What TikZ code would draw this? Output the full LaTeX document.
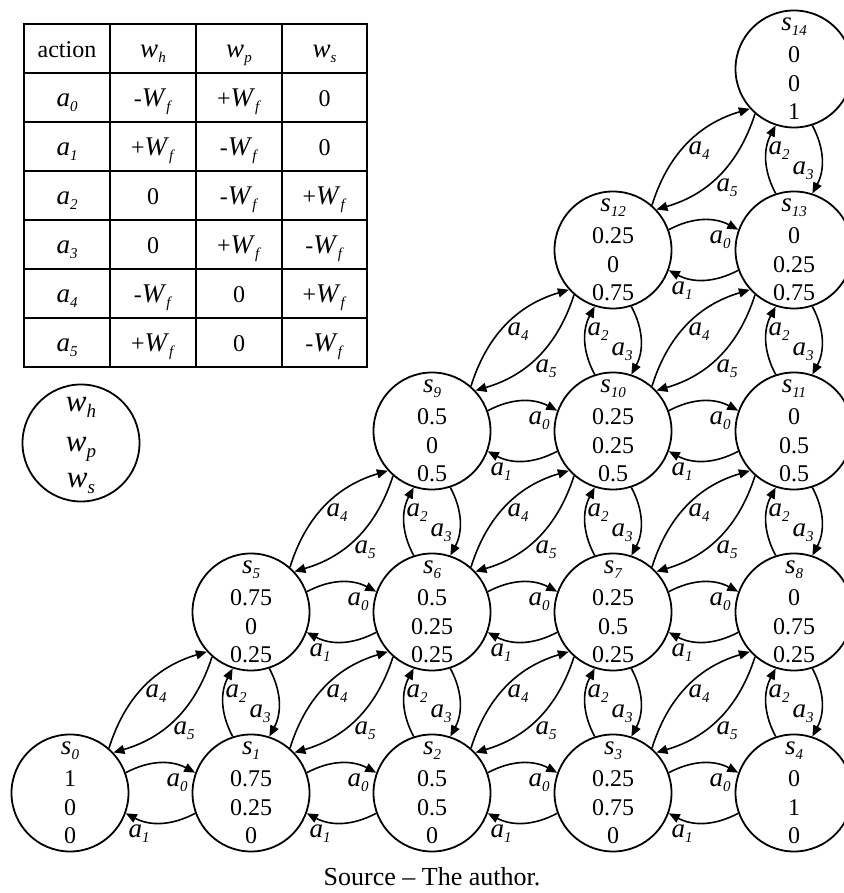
\documentclass[tikz,border=0pt]{standalone}
\usepackage{fontspec}
\setmainfont{Liberation Serif}
\usetikzlibrary{arrows.meta}
\newcommand\sub[2]{{\fontsize{27}{30}\selectfont\textit{#1}}\raisebox{-5pt}{\fontsize{15}{15}\selectfont\textit{#2}}}
\newcommand\subL[2]{{\fontsize{31}{34}\selectfont\textit{#1}}\raisebox{-6pt}{\fontsize{19}{19}\selectfont\textit{#2}}}
\newcommand\mW{-\sub{W}{f}}
\newcommand\pW{+\sub{W}{f}}
\tikzset{
  stc/.style={circle, draw, line width=1.8pt, minimum size=117pt, inner sep=0pt},
  num/.style={anchor=base, font=\fontsize{24}{28}\selectfont, inner sep=0pt},
  var/.style={anchor=base, inner sep=0pt},
  arr/.style={line width=1.6pt, -{Triangle[length=11pt,width=9pt]}},
  lab/.style={inner sep=0pt},
  cell/.style={anchor=base, font=\fontsize{24}{28}\selectfont, inner sep=0pt},
}
\newcommand\mystate[7]{%
  \node[stc] (#1) at (#2,#3) {};
  \path (#1) ++(0,38.5) node[var] {\sub{s}{#4}};
  \path (#1) ++(0,6) node[num] {#5};
  \path (#1) ++(0,-23) node[num] {#6};
  \path (#1) ++(0,-51) node[num] {#7};
}
\begin{document}
\begin{tikzpicture}[x=1pt,y=1pt]
\useasboundingbox (0,0) rectangle (843,893);

% table
\draw[line width=1.8pt] (24,526) rectangle (367,869);
\foreach \x in {110,196,282} \draw[line width=1.8pt] (\x,526) -- (\x,869);
\foreach \y in {820,771,722,673,624,575} \draw[line width=1.8pt] (24,\y) -- (367,\y);
\foreach \i/\ca/\cb/\cc/\cd in {
  0/{action}/{\sub{w}{h}}/{\sub{w}{p}}/{\sub{w}{s}},
  1/{\sub{a}{0}}/{\mW}/{\pW}/{0},
  2/{\sub{a}{1}}/{\pW}/{\mW}/{0},
  3/{\sub{a}{2}}/{0}/{\mW}/{\pW},
  4/{\sub{a}{3}}/{0}/{\pW}/{\mW},
  5/{\sub{a}{4}}/{\mW}/{0}/{\pW},
  6/{\sub{a}{5}}/{\pW}/{0}/{\mW}} {
  \node[cell] at (67,835.5-49*\i) {\ca};
  \node[cell] at (153,835.5-49*\i) {\cb};
  \node[cell] at (239,835.5-49*\i) {\cc};
  \node[cell] at (324.5,835.5-49*\i) {\cd};
}

% legend
\node[stc] (leg) at (81,450) {};
\path (leg) ++(0,31) node[var] {\subL{w}{h}};
\path (leg) ++(0,-9) node[var] {\subL{w}{p}};
\path (leg) ++(0,-45) node[var] {\subL{w}{s}};

% states
\mystate{s0}{70}{100}{0}{1}{0}{0}
\mystate{s1}{251}{100}{1}{0.75}{0.25}{0}
\mystate{s2}{432}{100}{2}{0.5}{0.5}{0}
\mystate{s3}{613}{100}{3}{0.25}{0.75}{0}
\mystate{s4}{794}{100}{4}{0}{1}{0}
\mystate{s5}{251}{281}{5}{0.75}{0}{0.25}
\mystate{s6}{432}{281}{6}{0.5}{0.25}{0.25}
\mystate{s7}{613}{281}{7}{0.25}{0.5}{0.25}
\mystate{s8}{794}{281}{8}{0}{0.75}{0.25}
\mystate{s9}{432}{462}{9}{0.5}{0}{0.5}
\mystate{s10}{613}{462}{10}{0.25}{0.25}{0.5}
\mystate{s11}{794}{462}{11}{0}{0.5}{0.5}
\mystate{s12}{613}{643}{12}{0.25}{0}{0.75}
\mystate{s13}{794}{643}{13}{0}{0.25}{0.75}
\mystate{s14}{794}{824}{14}{0}{0}{1}

% horizontal a0/a1
\foreach \l/\r in {s0/s1,s1/s2,s2/s3,s3/s4,s5/s6,s6/s7,s7/s8,s9/s10,s10/s11,s12/s13} {
  \draw[arr] (\l.20) to[bend left=28] (\r.160);
  \draw[arr] (\r.200) to[bend left=28] (\l.340);
  \path (\r) ++(-74,10) node[lab] {\sub{a}{0}};
  \path (\l) ++(69,-41) node[lab] {\sub{a}{1}};
}
% vertical a2/a3
\foreach \b/\u in {s1/s5,s2/s6,s3/s7,s4/s8,s6/s9,s7/s10,s8/s11,s10/s12,s11/s13,s13/s14} {
  \draw[arr] (\b.108) to[bend left=28] (\u.252);
  \draw[arr] (\u.288) to[bend left=28] (\b.72);
  \path (\u) ++(-15,-82) node[lab] {\sub{a}{2}};
  \path (\b) ++(9,79) node[lab] {\sub{a}{3}};
}
% diagonal a4/a5
\foreach \d/\e in {s0/s5,s1/s6,s2/s7,s3/s8,s5/s9,s6/s10,s7/s11,s9/s12,s10/s13,s12/s14} {
  \draw[arr] (\d.49) to[bend left=28] (\e.222);
  \draw[arr] (\e.229) to[bend left=28] (\d.43);
  \path (\d) ++(86,99) node[lab] {\sub{a}{4}};
  \path (\d) ++(114,62) node[lab] {\sub{a}{5}};
}

\node[anchor=base, font=\fontsize{26}{30}\selectfont, inner sep=0pt] (cap) at (432,7) {Source \textendash{} The author.};
\end{tikzpicture}
\end{document}
